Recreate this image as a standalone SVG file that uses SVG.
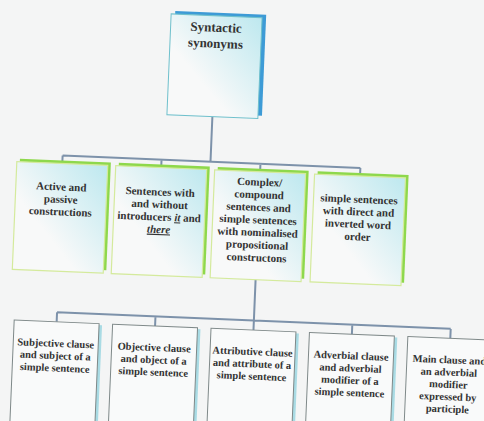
<svg xmlns="http://www.w3.org/2000/svg" width="484" height="421" viewBox="0 0 484 421">
<style>
text{font-family:"Liberation Serif","DejaVu Serif",serif;font-weight:bold;fill:#333;text-anchor:middle}
.t0{font-size:13px}
.t1{font-size:11px}
.t2{font-size:10.5px}
.con{stroke:#7d92aa;stroke-width:2;fill:none}
.sh0{fill:#3d9bd6}
.b0{fill:url(#gc);stroke:#6fc0cc;stroke-width:1}
.sh1{fill:#8ed84c}
.b1{fill:url(#gc);stroke:#d4ea9c;stroke-width:1.2}
.sh2{fill:#a9dbe4}
.b2{fill:#f9fafa;stroke:#7e8888;stroke-width:1}
.u{font-style:italic;text-decoration:underline}
</style>
<defs>
<linearGradient id="gc" x1="1" y1="0" x2="0.35" y2="0.65">
<stop offset="0" stop-color="#bde8ef"/>
<stop offset="1" stop-color="#f8f9f9"/>
</linearGradient>
</defs>
<rect width="484" height="421" fill="#f4f5f5"/>
<g transform="rotate(2.4 242 210)" font-family="Liberation Serif, DejaVu Serif, serif">
<g id="connectors">
<path class="con" d="M208.5 118 V163 M60.5 163 H358.5 M60.5 163 V171 M159.5 163 V171 M258.5 163 V171 M358.5 163 V171"/>
<path class="con" d="M258.5 279 V329.5 M61.5 320 H455.5 M61.5 320 V329.5 M160 320 V329.5 M357 320 V329.5 M455.5 320 V329.5"/>
</g>
<g id="root">
<rect class="sh0" x="167" y="14" width="91" height="101"/>
<rect class="b0" x="163" y="17" width="91" height="101"/>
<text class="t0" x="208.5" y="33">Syntactic</text>
<text class="t0" x="208.5" y="49">synonyms</text>
</g>
<g id="n1">
<rect class="sh1" x="18" y="168" width="91" height="108"/>
<rect class="b1" x="15" y="171" width="91" height="108"/>
<text class="t1" x="60.5" y="198">Active and</text>
<text class="t1" x="60.5" y="210.5">passive</text>
<text class="t1" x="60.5" y="223">constructions</text>
</g>
<g id="n2">
<rect class="sh1" x="117" y="168" width="91" height="108"/>
<rect class="b1" x="114" y="171" width="91" height="108"/>
<text class="t1" x="159.5" y="199">Sentences with</text>
<text class="t1" x="159.5" y="211.5">and without</text>
<text class="t1" x="159.5" y="224">introducers <tspan class="u">it</tspan> and</text>
<text class="t1" x="159.5" y="236.5"><tspan class="u">there</tspan></text>
</g>
<g id="n3">
<rect class="sh1" x="216" y="168" width="91" height="108"/>
<rect class="b1" x="213" y="171" width="91" height="108"/>
<text class="t1" x="258.5" y="185">Complex/</text>
<text class="t1" x="258.5" y="197.6">compound</text>
<text class="t1" x="258.5" y="210.2">sentences and</text>
<text class="t1" x="258.5" y="222.8">simple sentences</text>
<text class="t1" x="258.5" y="235.4">with nominalised</text>
<text class="t1" x="258.5" y="248">propositional</text>
<text class="t1" x="258.5" y="260.6">constructons</text>
</g>
<g id="n4">
<rect class="sh1" x="316" y="168" width="91" height="108"/>
<rect class="b1" x="313" y="171" width="91" height="108"/>
<text class="t1" x="358.5" y="198">simple sentences</text>
<text class="t1" x="358.5" y="210.5">with direct and</text>
<text class="t1" x="358.5" y="223">inverted word</text>
<text class="t1" x="358.5" y="235.5">order</text>
</g>
<g id="m1">
<rect class="sh2" x="22" y="331" width="85" height="110"/>
<rect class="b2" x="19" y="329.5" width="85" height="110"/>
<text class="t2" x="61.5" y="354.5">Subjective clause</text>
<text class="t2" x="61.5" y="366.8">and subject of a</text>
<text class="t2" x="61.5" y="379.1">simple sentence</text>
</g>
<g id="m2">
<rect class="sh2" x="120.5" y="331" width="85" height="110"/>
<rect class="b2" x="117.5" y="329.5" width="85" height="110"/>
<text class="t2" x="160" y="354.5">Objective clause</text>
<text class="t2" x="160" y="366.8">and object of a</text>
<text class="t2" x="160" y="379.1">simple sentence</text>
</g>
<g id="m3">
<rect class="sh2" x="219" y="331" width="85" height="110"/>
<rect class="b2" x="216" y="329.5" width="85" height="110"/>
<text class="t2" x="258.5" y="354.5">Attributive clause</text>
<text class="t2" x="258.5" y="366.8">and attribute of a</text>
<text class="t2" x="258.5" y="379.1">simple sentence</text>
</g>
<g id="m4">
<rect class="sh2" x="317.5" y="331" width="85" height="110"/>
<rect class="b2" x="314.5" y="329.5" width="85" height="110"/>
<text class="t2" x="357" y="354.5">Adverbial clause</text>
<text class="t2" x="357" y="366.8">and adverbial</text>
<text class="t2" x="357" y="379.1">modifier of a</text>
<text class="t2" x="357" y="391.4">simple sentence</text>
</g>
<g id="m5">
<rect class="sh2" x="416" y="331" width="85" height="110"/>
<rect class="b2" x="413" y="329.5" width="85" height="110"/>
<text class="t2" x="455.5" y="354.5">Main clause and</text>
<text class="t2" x="455.5" y="366.8">an adverbial</text>
<text class="t2" x="455.5" y="379.1">modifier</text>
<text class="t2" x="455.5" y="391.4">expressed by</text>
<text class="t2" x="455.5" y="403.7">participle</text>
</g>
</g>
</svg>
